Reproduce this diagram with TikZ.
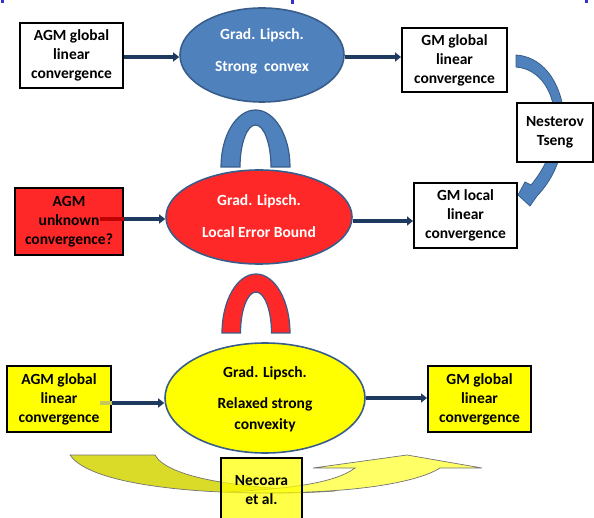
\documentclass[tikz,border=0pt]{standalone}
\usepackage{fontspec}
\setmainfont{Carlito}
\usetikzlibrary{shapes.geometric,arrows.meta}
\definecolor{navy}{HTML}{1F3A5F}
\definecolor{ofblue}{HTML}{4F81BD}
\definecolor{ofborder}{HTML}{385D8A}
\definecolor{myred}{RGB}{255,40,40}
\definecolor{darkred}{RGB}{190,0,0}
\definecolor{myyellow}{RGB}{255,255,0}
\definecolor{lightyel}{RGB}{255,255,102}
\definecolor{darkyel}{RGB}{218,218,40}
\definecolor{oliveline}{RGB}{200,200,90}
\definecolor{titleblue}{RGB}{51,51,204}
\begin{document}
\begin{tikzpicture}[x=1pt,y=-1pt,
  txt/.style={font=\bfseries\fontsize{15.5}{19}\selectfont, align=center, inner sep=0pt},
  boxnode/.style={draw=black, line width=2pt, inner sep=0pt, font=\bfseries\fontsize{15.5}{19}\selectfont, align=center},
  ellnode/.style={ellipse, draw=ofborder, line width=1.6pt, inner sep=0pt},
  conn/.style={draw=navy, line width=3.2pt, -{Triangle[length=6pt,width=9pt]}},
  archstyle/.style={draw=ofborder, line width=1.2pt},
  yarrow/.style={draw=black!55, line width=0.7pt}
]
\useasboundingbox (0,0) rectangle (594,518);

% remnants of a cut-off title
\fill[titleblue] (1,0) rectangle (4,3);
\fill[titleblue] (291,0) rectangle (294,4);
\fill[titleblue] (585,0) rectangle (588,3);

% curved blue arrow (behind the boxes)
\fill[ofblue, draw=ofborder, line width=0.8pt]
  (516,55) .. controls (546,57) and (564,88) .. (564,122)
  .. controls (564,154) and (555,177) .. (537,196)
  -- (530,206) -- (518,195) -- (525,182) -- (531,185)
  .. controls (546,167) and (555,146) .. (555,122)
  .. controls (555,92) and (540,69) .. (516,67) -- cycle;

% yellow curved arrow
\fill[darkyel, yarrow]
  (70,455) -- (155,455) .. controls (168,478) and (240,489) .. (335,491)
  .. controls (250,497) and (95,492) .. (70,455) -- cycle;
\fill[lightyel, yarrow]
  (225,492) .. controls (290,489) and (335,483) .. (355,468)
  -- (313,468) -- (407,455) -- (482,468) -- (440,468)
  .. controls (415,484) and (340,496) .. (225,492) -- cycle;

% ellipses
\node[ellnode, fill=ofblue, minimum width=164pt, minimum height=94pt] (se) at (262,55) {};
\node[ellnode, fill=myred, minimum width=186pt, minimum height=94pt] (re) at (259,217) {};
\node[ellnode, fill=myyellow, minimum width=200pt, minimum height=110pt] (ye) at (265,398) {};
\node[txt, text=white] (setxt) at (262,51) {Grad. Lipsch.\\[13pt]Strong\ \ convex};
\node[txt, text=white] (retxt) at (259,216) {Grad. Lipsch.\\[13pt]Local Error Bound};
\node[txt, text=black] (yetxt) at (265,399) {Grad. Lipsch.\\[12pt]Relaxed strong\\[2pt]convexity};

% arches
\fill[ofblue, archstyle]
  (221,167) .. controls (221,135.52) and (236.45,110) .. (255.5,110)
  .. controls (274.55,110) and (290,135.52) .. (290,167)
  -- (271,167) .. controls (271,143.8) and (264.06,125) .. (255.5,125)
  .. controls (246.94,125) and (240,143.8) .. (240,167) -- cycle;
\fill[myred, archstyle]
  (222,333) .. controls (222,300.41) and (237.22,274) .. (256,274)
  .. controls (274.78,274) and (290,300.41) .. (290,333)
  -- (271.5,333) .. controls (271.5,310.36) and (264.56,292) .. (256,292)
  .. controls (247.44,292) and (240.5,310.36) .. (240.5,333) -- cycle;

% boxes
\node[boxnode, fill=white, minimum width=103pt, minimum height=65pt] (b1) at (71.5,55.5) {AGM global\\linear\\convergence};
\node[boxnode, fill=white, minimum width=105pt, minimum height=64pt] (gg) at (454.5,60) {GM global\\linear\\convergence};
\node[boxnode, fill=white, minimum width=76pt, minimum height=59pt] (nt) at (555,132.5) {Nesterov\\Tseng};
\node[boxnode, fill=white, minimum width=103pt, minimum height=65pt] (gl) at (465.5,215.5) {GM local\\linear\\convergence};
\node[boxnode, fill=myred, minimum width=108pt, minimum height=67pt] (rb) at (69,221.5) {AGM\\unknown\\convergence?};
\node[boxnode, fill=myyellow, minimum width=104pt, minimum height=66pt] (yl) at (59,399) {AGM global\\linear\\convergence};
\node[boxnode, fill=myyellow, minimum width=103pt, minimum height=66pt] (yr) at (479.5,399) {GM global\\linear\\convergence};
\node[boxnode, fill=myyellow, fill opacity=0.72, text opacity=1, draw opacity=1, minimum width=81pt, minimum height=64pt] (nc) at (261.5,490) {Necoara\\et al.};

% connectors
\coordinate (rbin) at (100,219);
\coordinate (ylin) at (100,403);
\draw[conn] (b1.east |- 0,57) -- (se.west |- 0,57);
\draw[conn] (se.east |- 0,57) -- (gg.west |- 0,57);
\draw[darkred, line width=3.2pt] (rbin) -- (rb.east |- rbin);
\draw[conn] (rb.east |- rbin) -- (re.west |- rbin);
\draw[conn] ([yshift=-4pt]re.east) -- ([yshift=-4pt]re.east -| gl.west);
\draw[oliveline, line width=3.2pt] (ylin) -- (yl.east |- ylin);
\draw[conn] (yl.east |- ylin) -- (ye.west |- ylin);
\draw[conn] (ye.east) -- (ye.east -| yr.west);
\end{tikzpicture}
\end{document}
